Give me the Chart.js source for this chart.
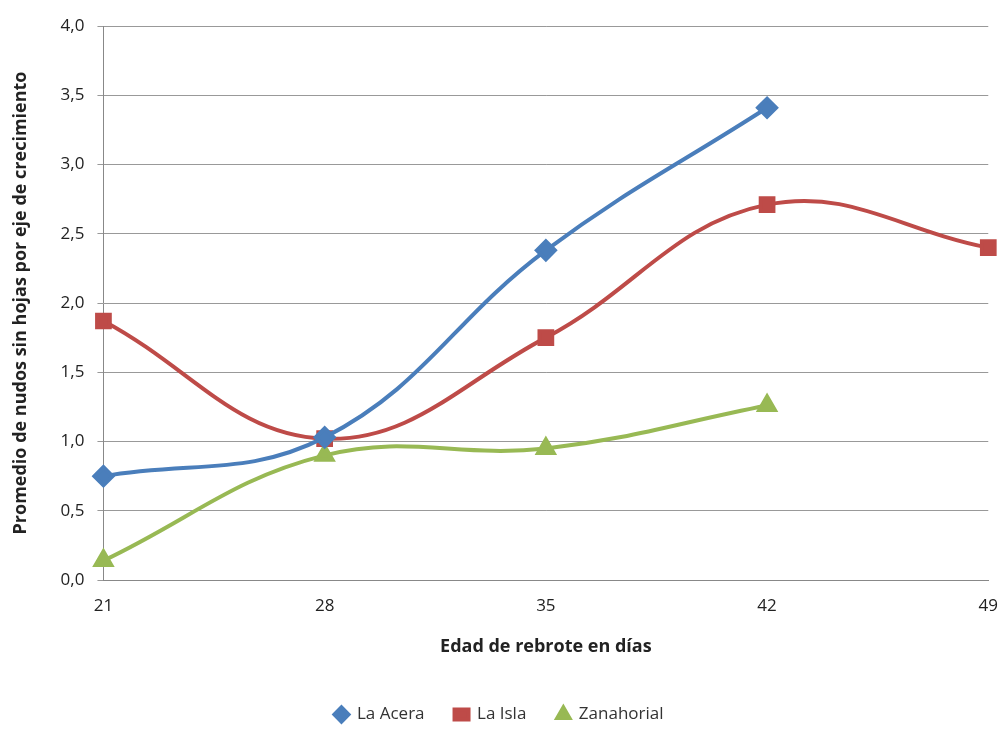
<!DOCTYPE html>
<html>
<head>
<meta charset="utf-8">
<script src="https://cdn.jsdelivr.net/npm/chart.js@4/dist/chart.umd.min.js"></script>
<style>
  body { margin: 0; background: #fff; }
  #wrap { width: 1006px; height: 733px; }
</style>
</head>
<body>
<div id="wrap"><canvas id="c"></canvas></div>
<script>
// Data
const days = ['21', '28', '35', '42', '49'];
const laAcera = [0.75, 1.03, 2.38, 3.41, null];
const laIsla = [1.87, 1.02, 1.75, 2.71, 2.40];
const zanahorial = [0.14, 0.90, 0.95, 1.26, null];
const yTicks = ['0,0', '0,5', '1,0', '1,5', '2,0', '2,5', '3,0', '3,5', '4,0'];

const font = 'Open Sans, Liberation Sans, sans-serif';

function series(label, data, color, style) {
  return {
    label, data,
    borderColor: color, backgroundColor: color,
    borderWidth: 4, tension: 0.4,
    pointStyle: style, pointRadius: 9,
    pointBorderColor: color, pointBackgroundColor: color
  };
}

new Chart(document.getElementById('c'), {
  type: 'line',
  data: {
    labels: days,
    datasets: [
      series('La Acera', laAcera, '#4a7ebb', 'rectRot'),
      series('La Isla', laIsla, '#be4b48', 'rect'),
      series('Zanahorial', zanahorial, '#98b954', 'triangle')
    ]
  },
  options: {
    responsive: true,
    maintainAspectRatio: false,
    animation: false,
    layout: { padding: { left: 6, right: 14, top: 26, bottom: 0 } },
    plugins: {
      legend: {
        position: 'bottom',
        labels: {
          usePointStyle: true, pointStyleWidth: 14, boxHeight: 10, padding: 30,
          color: '#333', font: { family: font, size: 17 }
        }
      },
      tooltip: { enabled: false }
    },
    scales: {
      x: {
        offset: false,
        grid: { display: false },
        border: { color: '#888' },
        ticks: { color: '#222', font: { family: font, size: 17 }, padding: 8 },
        title: {
          display: true, text: 'Edad de rebrote en días',
          color: '#222', font: { family: font, size: 18, weight: 'bold' },
          padding: { top: 12, bottom: 18 }
        }
      },
      y: {
        min: 0, max: 4,
        grid: { color: '#999', tickLength: 6 },
        border: { color: '#888' },
        ticks: {
          stepSize: 0.5, padding: 13,
          color: '#222', font: { family: font, size: 17 },
          callback: (v, i) => yTicks[i]
        },
        title: {
          display: true, text: 'Promedio de nudos sin hojas por eje de crecimiento',
          color: '#222', font: { family: font, size: 18, weight: 'bold' },
          padding: { top: 4, bottom: 16 }
        }
      }
    }
  }
});
</script>
</body>
</html>
